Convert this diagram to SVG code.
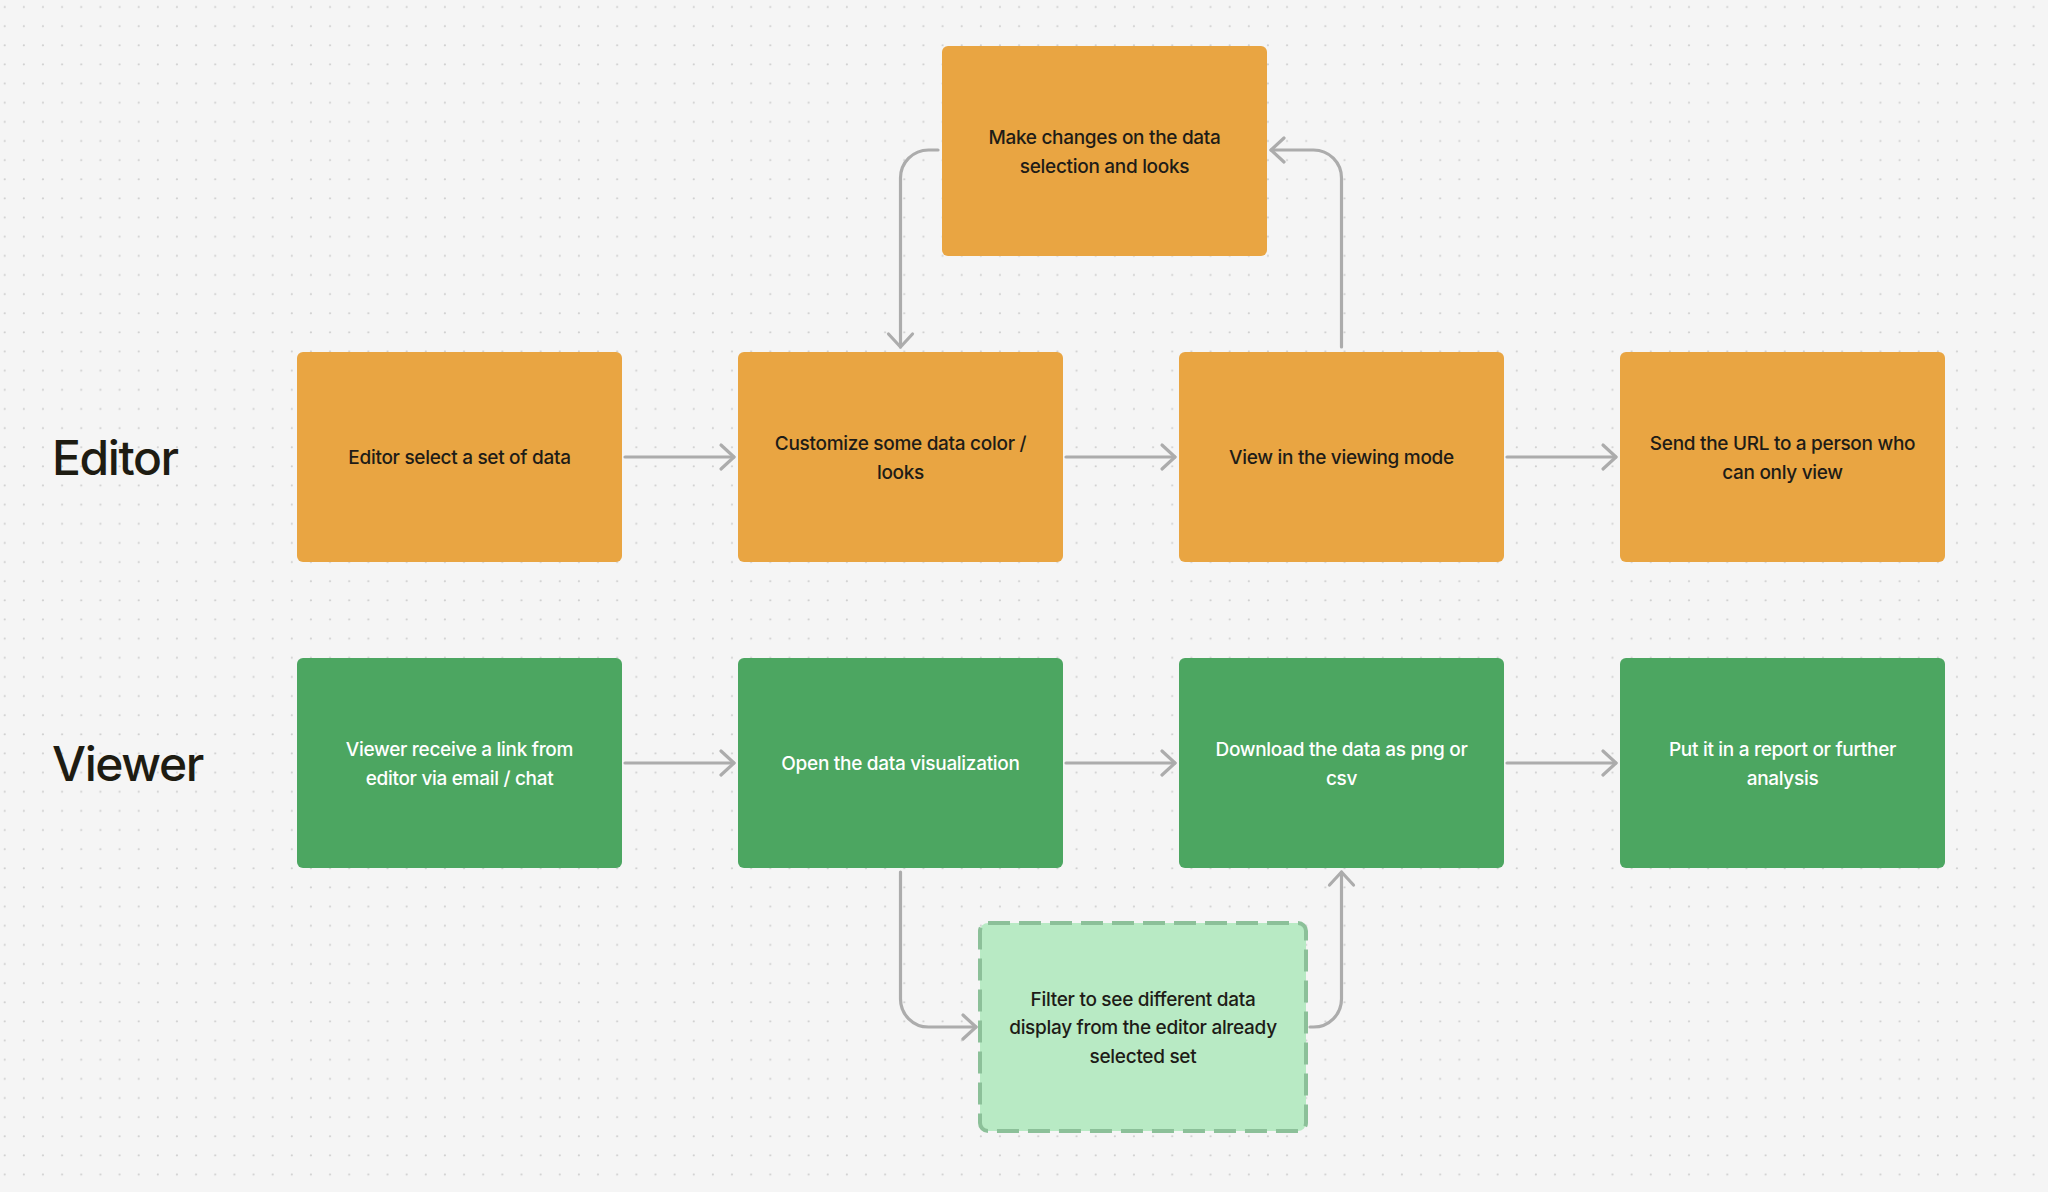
<svg xmlns="http://www.w3.org/2000/svg" width="2048" height="1192" viewBox="0 0 2048 1192">
  <defs>
    <pattern id="dots" x="0" y="0" width="19.14" height="19.14" patternUnits="userSpaceOnUse">
      <circle cx="4.7" cy="7" r="1.1" fill="#cfcfcf"/>
    </pattern>
    <marker id="arrow" markerUnits="userSpaceOnUse" viewBox="-16 -16 32 32" markerWidth="32" markerHeight="32" refX="0" refY="0" orient="auto" overflow="visible">
      <path d="M-13,-12 L0,0 L-13,12" fill="none" stroke="#acacac" stroke-width="3.2" stroke-linecap="round" stroke-linejoin="round"/>
    </marker>
    <style>
      .bg { fill: #f5f5f5; }
      .orange { fill: #e9a542; }
      .green { fill: #4ca661; }
      .light { fill: #b8eac4; stroke: #8cc099; stroke-width: 4; stroke-dasharray: 22 9; }
      .t { font-family: Inter, "Noto Sans", "Liberation Sans", sans-serif; font-size: 19px; font-weight: 500; letter-spacing: -0.3px; text-anchor: middle; }
      .dark { fill: #1e1c17; }
      .white { fill: #ffffff; }
      .lane { font-family: Inter, "Noto Sans", "Liberation Sans", sans-serif; font-size: 48px; font-weight: 500; letter-spacing: -1.4px; fill: #1e1c12; }
      .conn { fill: none; stroke: #acacac; stroke-width: 3.2; stroke-linecap: round; marker-end: url(#arrow); }
    </style>
  </defs>
  <rect class="bg" x="0" y="0" width="2048" height="1192"/>
  <rect x="0" y="0" width="2048" height="1192" fill="url(#dots)"/>

  <text class="lane" x="52" y="475">Editor</text>
  <text class="lane" x="52" y="781">Viewer</text>

  <g id="connectors">
    <path class="conn" d="M625,457 H734"/>
    <path class="conn" d="M1066,457 H1175"/>
    <path class="conn" d="M1507,457 H1616"/>
    <path class="conn" d="M625,763 H734"/>
    <path class="conn" d="M1066,763 H1175"/>
    <path class="conn" d="M1507,763 H1616"/>
    <path class="conn" d="M938,150 H928.5 A28,28 0 0 0 900.5,178 V347"/>
    <path class="conn" d="M1341.5,347 V178 A28,28 0 0 0 1313.5,150 H1271"/>
    <path class="conn" d="M900.5,872 V999 A28,28 0 0 0 928.5,1027 H976"/>
    <path class="conn" d="M1310,1027 H1313.5 A28,28 0 0 0 1341.5,999 V872"/>
  </g>

  <g id="make-changes">
    <rect class="orange" x="942" y="46" width="325" height="210" rx="6"/>
    <text class="t dark" x="1104.5" y="143.5">Make changes on the data</text>
    <text class="t dark" x="1104.5" y="172.5">selection and looks</text>
  </g>

  <g id="editor-select">
    <rect class="orange" x="297" y="352" width="325" height="210" rx="6"/>
    <text class="t dark" x="459.5" y="464">Editor select a set of data</text>
  </g>
  <g id="customize">
    <rect class="orange" x="738" y="352" width="325" height="210" rx="6"/>
    <text class="t dark" x="900.5" y="449.5">Customize some data color /</text>
    <text class="t dark" x="900.5" y="478.5">looks</text>
  </g>
  <g id="view-mode">
    <rect class="orange" x="1179" y="352" width="325" height="210" rx="6"/>
    <text class="t dark" x="1341.5" y="464">View in the viewing mode</text>
  </g>
  <g id="send-url">
    <rect class="orange" x="1620" y="352" width="325" height="210" rx="6"/>
    <text class="t dark" x="1782.5" y="449.5">Send the URL to a person who</text>
    <text class="t dark" x="1782.5" y="478.5">can only view</text>
  </g>

  <g id="viewer-receive">
    <rect class="green" x="297" y="658" width="325" height="210" rx="6"/>
    <text class="t white" x="459.5" y="755.5">Viewer receive a link from</text>
    <text class="t white" x="459.5" y="784.5">editor via email / chat</text>
  </g>
  <g id="open-viz">
    <rect class="green" x="738" y="658" width="325" height="210" rx="6"/>
    <text class="t white" x="900.5" y="770">Open the data visualization</text>
  </g>
  <g id="download">
    <rect class="green" x="1179" y="658" width="325" height="210" rx="6"/>
    <text class="t white" x="1341.5" y="755.5">Download the data as png or</text>
    <text class="t white" x="1341.5" y="784.5">csv</text>
  </g>
  <g id="report">
    <rect class="green" x="1620" y="658" width="325" height="210" rx="6"/>
    <text class="t white" x="1782.5" y="755.5">Put it in a report or further</text>
    <text class="t white" x="1782.5" y="784.5">analysis</text>
  </g>

  <g id="filter">
    <rect class="light" x="980" y="923" width="326" height="208" rx="8"/>
    <text class="t dark" x="1143" y="1005.5">Filter to see different data</text>
    <text class="t dark" x="1143" y="1034">display from the editor already</text>
    <text class="t dark" x="1143" y="1062.5">selected set</text>
  </g>
</svg>
